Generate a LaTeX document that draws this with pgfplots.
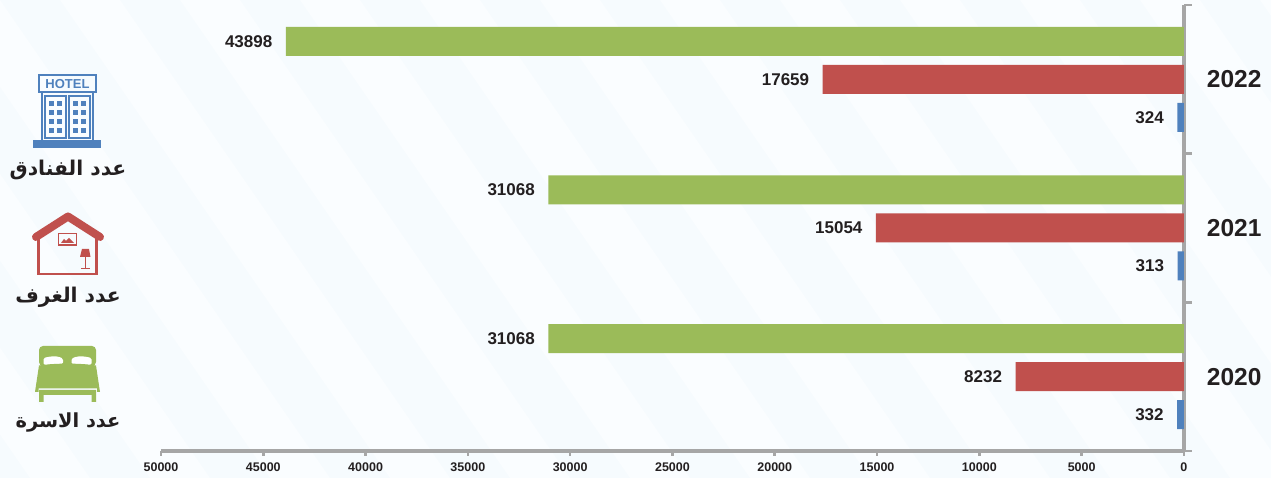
\documentclass[border=0pt]{standalone}
\usepackage{pgfplots}
\pgfplotsset{compat=1.18}
\usepackage{fontspec}
\setmainfont{Liberation Sans}
\newfontfamily\arabicfont[Script=Arabic]{DejaVu Sans}
\newfontfamily\yearfont{Liberation Sans Bold}
\newfontfamily\valfont{Liberation Sans Bold}
\TeXXeTstate=1
\definecolor{bgbase}{HTML}{F6FBFE}
\definecolor{bgstripe}{HTML}{FAFDFF}
\definecolor{cgreen}{HTML}{9BBB59}
\definecolor{cred}{HTML}{C0504D}
\definecolor{cblue}{HTML}{4F81BD}
\definecolor{caxis}{HTML}{A6A6A6}
\definecolor{ctext}{HTML}{231F20}
\begin{document}
\begin{tikzpicture}
\useasboundingbox (0pt,0pt) rectangle (1271pt,478pt);
\begin{scope}[x=1pt,y=-1pt,yshift=478pt]
\clip (0,0) rectangle (1271,478);
\fill[bgbase] (0,0) rectangle (1271,478);
\foreach \s in {-300,-180,...,1300}{
  \fill[bgstripe] (\s,0) -- (\s+60,0) -- (\s+60+330,478) -- (\s+330,478) -- cycle;
}
\end{scope}
\begin{axis}[
  at={(161pt,27pt)},anchor=south west,
  scale only axis,width=1023pt,height=446pt,
  x dir=reverse,xmin=0,xmax=50000,
  ymin=-0.5,ymax=2.5,
  xbar,
  bar width=29pt,
  axis line style={draw=caxis,line width=3.2pt},
  axis x line*=bottom,
  axis y line*=right,
  xtick={0,5000,...,50000},
  ytick={0,1,2},
  yticklabels={2020,2021,2022},
  minor ytick={-0.5,0.5,1.5,2.5},
  tick style={draw=caxis,line width=2.6pt},
  major tick length=5pt,
  minor tick length=8pt,
  y tick style={draw=none},
  minor y tick style={draw=caxis,line width=2.6pt},
  tick align=outside,
  scaled x ticks=false,
  xticklabel style={font=\fontsize{12.5}{14}\selectfont\valfont,text=ctext,/pgf/number format/.cd,fixed,1000 sep={},assume math mode=true},
  yticklabel style={font=\fontsize{24.5}{28}\selectfont\yearfont,text=ctext,anchor=west,xshift=14.5pt,/pgf/number format/assume math mode=true},
  xticklabel shift=3pt,
  point meta=x,
  nodes near coords,
  nodes near coords style={font=\fontsize{17}{18}\selectfont\valfont,text=ctext,anchor=east,xshift=-10pt,/pgf/number format/.cd,fixed,1000 sep={},assume math mode=true},
  clip=false,
]
\addplot[fill=cgreen,draw=none,bar shift=38pt] coordinates {(31068,0) (31068,1) (43898,2)};
\addplot[fill=cred,draw=none,bar shift=0pt] coordinates {(8232,0) (15054,1) (17659,2)};
\addplot[fill=cblue,draw=none,bar shift=-38pt] coordinates {(332,0) (313,1) (324,2)};
\end{axis}
\begin{scope}[x=1pt,y=-1pt,yshift=478pt]
% hotel icon
\fill[cblue] (33,140) rectangle (101,148);
\draw[cblue,line width=1.4pt] (39,75) rectangle (96,92);
\draw[cblue,line width=1.4pt] (42,92) -- (42,140) (93,92) -- (93,140);
\draw[cblue,line width=1.2pt] (45,96) rectangle (66,138) (69,96) rectangle (90,138);
\foreach \yy in {101,110,119,128}{
  \foreach \xx in {49,57,73,81}{
    \fill[cblue] (\xx,\yy) rectangle (\xx+5,\yy+5);
  }
}
\node[text=cblue,font=\fontsize{13}{14}\selectfont\bfseries] at (67.5,84) {HOTEL};
\node[text=ctext,font=\fontsize{20.3}{22}\selectfont\arabicfont\bfseries] at (68,170) {\beginR عدد الفنادق\endR};
% house icon
\draw[cred,line width=8pt,line cap=round,line join=round] (36,237) -- (68,216.5) -- (100,237);
\draw[cred,line width=2.2pt] (38.5,235) -- (38.5,274) -- (96.5,274) -- (96.5,235);
\draw[cred,line width=1.2pt] (58.5,233.5) rectangle (76.5,245);
\fill[cred] (61,243) -- (64,239) -- (66,241) -- (69,238) -- (74,243) -- cycle;
\fill[cred] (80,257) -- (82,249) -- (89,249) -- (90.5,257) -- cycle;
\draw[cred,line width=1.4pt] (85.5,257) -- (85.5,268.5) (81,268.5) -- (90,268.5);
\node[text=ctext,font=\fontsize{20.3}{22}\selectfont\arabicfont\bfseries] at (68,297) {\beginR عدد الغرف\endR};
% bed icon
\fill[cgreen,rounded corners=4pt] (39,346) rectangle (96,366);
\fill[white,rounded corners=1.5pt] (43.5,358) -- (50,356.5) -- (58,356.5) -- (63,358.5) -- (63,364) -- (43.5,365) -- cycle;
\fill[white,rounded corners=1.5pt] (71.5,358.5) -- (77,356.5) -- (85,356.5) -- (91.5,358) -- (91.5,365) -- (71.5,364) -- cycle;
\fill[cgreen] (39,365.5) .. controls (55,363) and (80,363) .. (96,365.5) -- (100,392) -- (97,392) -- (97,388.5) -- (38.5,388.5) -- (38.5,392) -- (35,392) -- cycle;
\fill[cgreen] (39,390) rectangle (96,395) (39,390) rectangle (43.5,402) (91.5,390) rectangle (96,402);
\node[text=ctext,font=\fontsize{19.4}{22}\selectfont\arabicfont\bfseries] at (68,423) {\beginR عدد الاسرة\endR};
\end{scope}
\end{tikzpicture}
\end{document}
